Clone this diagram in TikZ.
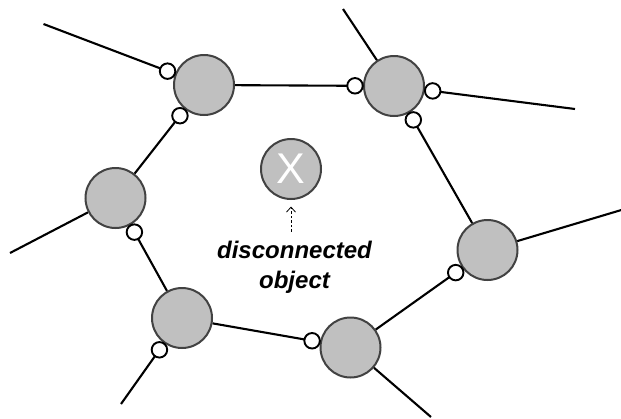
\documentclass[tikz,border=0pt]{standalone}
\usepackage{fontspec}
\setmainfont{Liberation Sans}
\usetikzlibrary{calc,arrows.meta}
\definecolor{objfill}{HTML}{C0C0C0}
\definecolor{objline}{HTML}{424242}
\tikzset{
  obj/.style={circle, minimum size=60pt, inner sep=0pt, fill=objfill, draw=objline, line width=2pt},
  port/.style={circle, minimum size=15.5pt, inner sep=0pt, fill=white, draw=black, line width=1.9pt},
  link/.style={draw=black, line width=2.1pt},
  note/.style={line width=0.8pt, dash pattern=on 2.5pt off 2pt, -{Straight Barb[length=5pt,width=9pt,line width=0.8pt]}},
}
\begin{document}
\begin{tikzpicture}[x=1pt,y=-1pt]
  \useasboundingbox (0,0) rectangle (621,418);

  % objects of the ring
  \node[obj] (A) at (204,85) {};
  \node[obj] (B) at (394,86) {};
  \node[obj] (C) at (115.5,198) {};
  \node[obj] (D) at (487.5,250) {};
  \node[obj] (E) at (182,318) {};
  \node[obj] (F) at (350.5,347.5) {};

  % the isolated object
  \node[obj] (X) at (291,169) {\fontsize{43}{43}\selectfont\color{white}X};

  % outer ends of the links leaving the ring
  \coordinate (a1) at (43.5,24);
  \coordinate (b1) at (343,9);
  \coordinate (b2) at (575,109);
  \coordinate (c1) at (10,253);
  \coordinate (d1) at (623,209.5);
  \coordinate (e1) at (121,404);
  \coordinate (f1) at (431,417);

  % links between objects and to the outside
  \path[link] (A) -- (B);
  \path[link] (A) -- (C);
  \path[link] (C) -- (E);
  \path[link] (E) -- (F);
  \path[link] (F) -- (D);
  \path[link] (D) -- (B);
  \path[link] (A) -- (a1);
  \path[link] (B) -- (b1);
  \path[link] (B) -- (b2);
  \path[link] (C) -- (c1);
  \path[link] (D) -- (d1);
  \path[link] (E) -- (e1);
  \path[link] (F) -- (f1);

  % ports sitting on the links, next to their object
  \node[port] (pa1) at ($(A)!39pt!(a1)$) {};
  \node[port] (pac) at ($(A)!39pt!(C)$) {};
  \node[port] (pba) at ($(B)!39pt!(A)$) {};
  \node[port] (pb2) at ($(B)!39pt!(b2)$) {};
  \node[port] (pbd) at ($(B)!39pt!(D)$) {};
  \node[port] (pce) at ($(C)!39pt!(E)$) {};
  \node[port] (pdf) at ($(D)!39pt!(F)$) {};
  \node[port] (pe1) at ($(E)!39pt!(e1)$) {};
  \node[port] (pfe) at ($(F)!39pt!(E)$) {};

  % label with its pointer
  \node[anchor=north, inner sep=0pt, align=center, font=\fontsize{24}{29.5}\selectfont\bfseries\itshape]
    (lbl) at (294.5,241) {disconnected\\object};
  \draw[note, shorten <=9.5pt, shorten >=6.5pt] (lbl.north -| X) -- (X.south);
\end{tikzpicture}
\end{document}
